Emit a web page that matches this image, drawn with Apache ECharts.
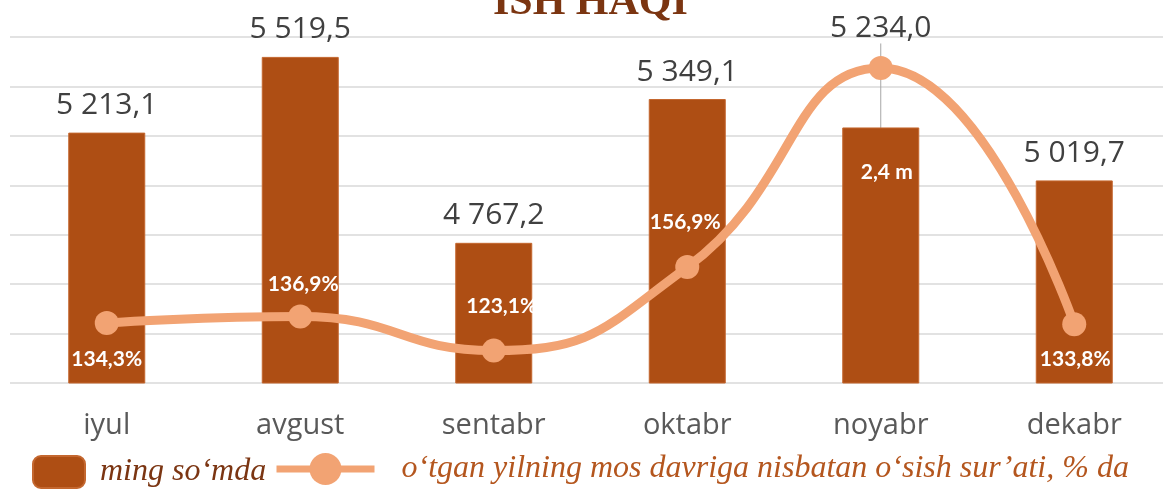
<!DOCTYPE html>
<html>
<head>
<meta charset="utf-8">
<script src="https://cdn.jsdelivr.net/npm/echarts@6/dist/echarts.min.js"></script>
<style>
  html, body { margin: 0; padding: 0; background: #fff; }
  #chart { width: 1163px; height: 491px; }
</style>
</head>
<body>
<div id="chart"></div>
<script>
// ma'lumotlar
const months = ['iyul', 'avgust', 'sentabr', 'oktabr', 'noyabr', 'dekabr']
const wages = [5213.1, 5519.5, 4767.2, 5349.1, 5234.0, 5019.7] // ming so'mda
const growth = [134.3, 136.9, 123.1, 156.9, 237.5, 133.8] // %
const growthLabels = ['134,3%', '136,9%', '123,1%', '156,9%', '2,4 m', '133,8%']
const barName = 'ming so‘mda'
const lineName = 'o‘tgan yilning mos davriga nisbatan o‘sish sur’ati, % da'

// 5213.1 -> "5 213,1"
function fmt(v) {
  const s = v.toFixed(1).split('.')
  return s[0].replace(/\B(?=(\d{3})+(?!\d))/g, ' ') + ',' + s[1]
}

const barColor = '#AE4E14'
const lineColor = '#F2A373'
// line label offsets from the marker
const lineLabelOffsets = [[0, 36], [3, -32], [8, -44], [-2, -45], [6, 104], [1, 35]]

const chart = echarts.init(document.getElementById('chart'))
chart.setOption({
  animation: false,
  title: {
    text: 'ISH HAQI',
    left: 488,
    top: -23,
    textStyle: { fontFamily: 'Liberation Serif', fontWeight: 'bold', fontSize: 42, color: '#7B3511' }
  },
  legend: [
    {
      data: [barName],
      left: 32,
      top: 455,
      padding: 0,
      itemWidth: 52,
      itemHeight: 32,
      icon: 'roundRect',
      textStyle: { fontFamily: 'Liberation Serif', fontStyle: 'italic', fontSize: 32, color: '#7B3512', padding: [0, 0, 0, 10] }
    },
    {
      data: [lineName],
      left: 273,
      top: 453,
      padding: 0,
      itemWidth: 98,
      itemHeight: 40,
      lineStyle: { width: 7 },
      textStyle: { fontFamily: 'Liberation Serif', fontStyle: 'italic', fontSize: 32, color: '#B4561E', padding: [0, 0, 0, 22] }
    }
  ],
  grid: { left: 10, top: 37, bottom: 108, width: 1161, outerBoundsMode: 'none' },
  xAxis: {
    type: 'category',
    data: months,
    axisLine: { show: false },
    axisTick: { show: false },
    axisLabel: { fontFamily: 'Open Sans', fontSize: 29, color: '#595959', margin: 28 }
  },
  yAxis: [
    {
      type: 'value',
      min: 4200,
      max: 5600,
      interval: 200,
      axisLabel: { show: false },
      axisLine: { show: false },
      axisTick: { show: false },
      splitLine: { lineStyle: { color: '#D9D9D9', width: 1.5 } }
    },
    {
      type: 'value',
      min: 110,
      max: 250,
      show: false,
      splitLine: { show: false }
    }
  ],
  series: [
    {
      name: barName,
      type: 'bar',
      barWidth: 77,
      data: wages.map((v, i) => i === 4
        ? { value: v, labelLine: { show: true, lineStyle: { color: '#A6A6A6', width: 1 } } }
        : v),
      itemStyle: { color: barColor, borderColor: '#C4672F', borderWidth: 1 },
      label: {
        show: true,
        position: 'top',
        distance: 12,
        fontFamily: 'Open Sans',
        fontSize: 30,
        color: '#404040',
        formatter: p => fmt(p.value)
      },
      labelLayout: p => (p.dataIndex === 4 ? { dy: -72 } : {})
    },
    {
      name: lineName,
      type: 'line',
      yAxisIndex: 1,
      smooth: 0.5,
      symbol: 'circle',
      symbolSize: 24,
      data: growth.map((v, i) => ({ value: v, label: { offset: lineLabelOffsets[i] } })),
      lineStyle: { color: lineColor, width: 9 },
      itemStyle: { color: lineColor },
      label: {
        show: true,
        position: 'inside',
        fontFamily: 'Lato',
        fontWeight: 'bold',
        fontSize: 21,
        color: '#fff',
        formatter: p => growthLabels[p.dataIndex]
      }
    }
  ]
})
</script>
</body>
</html>
